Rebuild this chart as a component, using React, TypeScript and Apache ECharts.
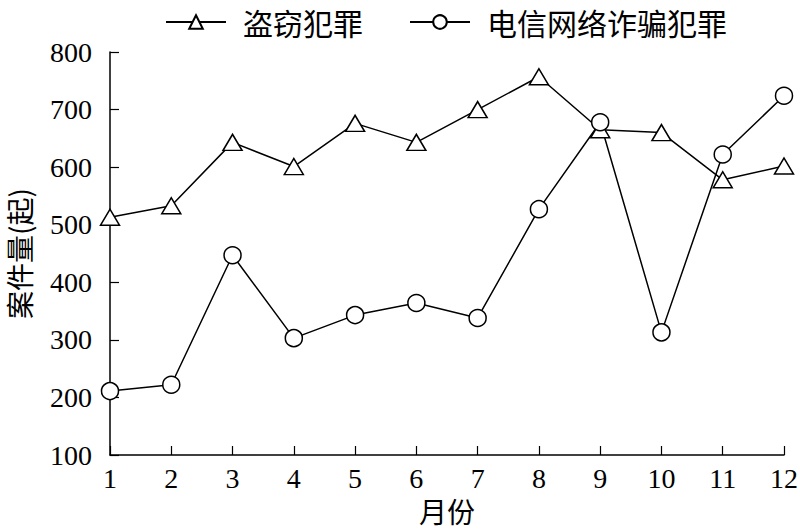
import React, { useEffect, useRef } from "react";
import * as echarts from "echarts";

const months = ["1", "2", "3", "4", "5", "6", "7", "8", "9", "10", "11", "12"];
const theft = [513, 533, 643, 601, 676, 643, 700, 757, 665, 660, 578, 602];
const fraud = [211, 222, 447, 303, 343, 364, 338, 527, 678, 313, 622, 724];
const seriesNames = ["盗窃犯罪", "电信网络诈骗犯罪"];
const serif = "'Liberation Serif', 'Times New Roman', serif";
const cjk = "'Noto Sans CJK SC', sans-serif";

export default function App() {
  const ref = useRef<HTMLDivElement>(null);
  useEffect(() => {
    if (!ref.current) return;
    const chart = echarts.init(ref.current, null, { renderer: "svg" });
    chart.setOption({
      animation: false,
      backgroundColor: "#fff",
      grid: { left: 110, right: 16, top: 52, bottom: 75, outerBoundsMode: "none", containLabel: false },
      legend: {
        left: 160,
        top: 2,
        itemWidth: 60,
        itemHeight: 17,
        itemGap: 46,
        textStyle: { fontFamily: cjk, fontSize: 30, color: "#000", padding: [0, 0, 0, 12] },
        data: seriesNames,
      },
      xAxis: {
        type: "category",
        data: months,
        boundaryGap: false,
        name: "月份",
        nameLocation: "middle",
        nameGap: 41,
        nameMoveOverlap: false,
        nameTextStyle: { fontFamily: cjk, fontSize: 28, color: "#000", lineHeight: 30 },
        axisLine: { lineStyle: { color: "#000", width: 1.5 } },
        axisTick: { inside: true, length: 9, lineStyle: { color: "#000", width: 1.2 } },
        axisLabel: { fontFamily: serif, fontSize: 28, color: "#000", margin: 9 },
        splitLine: { show: false },
      },
      yAxis: {
        type: "value",
        min: 100,
        max: 800,
        interval: 100,
        name: "案件量(起)",
        nameLocation: "middle",
        nameGap: 76,
        nameMoveOverlap: false,
        nameTextStyle: { fontFamily: cjk, fontSize: 28, color: "#000", lineHeight: 30 },
        axisLine: { show: true, lineStyle: { color: "#000", width: 1.5 } },
        axisTick: { show: true, inside: true, length: 9, lineStyle: { color: "#000", width: 1.2 } },
        axisLabel: { fontFamily: serif, fontSize: 28, color: "#000", margin: 18 },
        splitLine: { show: false },
      },
      series: [
        {
          name: seriesNames[0],
          type: "line",
          data: theft,
          symbol: "triangle",
          symbolSize: [19, 16],
          showAllSymbol: true,
          lineStyle: { color: "#000", width: 1.5 },
          itemStyle: { color: "#fff", borderColor: "#000", borderWidth: 1.5 },
        },
        {
          name: seriesNames[1],
          type: "line",
          data: fraud,
          symbol: "circle",
          symbolSize: 17,
          showAllSymbol: true,
          lineStyle: { color: "#000", width: 1.5 },
          itemStyle: { color: "#fff", borderColor: "#000", borderWidth: 1.5 },
        },
      ],
    });
    return () => chart.dispose();
  }, []);
  return <div ref={ref} style={{ width: 800, height: 530, position: "absolute", left: 0, top: 0 }} />;
}
